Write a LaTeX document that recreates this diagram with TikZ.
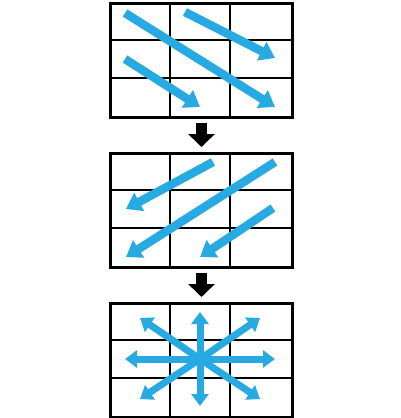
\documentclass[tikz,border=0pt]{standalone}
\usetikzlibrary{arrows.meta,calc}
\definecolor{arrowblue}{RGB}{39,170,225}
\begin{document}
\begin{tikzpicture}[x=1pt,y=-1pt,
  grid/.style={draw=black,line width=3pt,minimum width=182pt,minimum height=114pt,inner sep=0pt,anchor=north west},
  gridline/.style={draw=black,line width=1.8pt},
  bluearrow/.style={draw=arrowblue,line width=8.5pt,-{Triangle[width=20pt,length=15pt]}},
  smallblue/.style={draw=arrowblue,line width=7pt,-{Triangle[width=17pt,length=12pt]}},
  blackarrow/.style={draw=black,line width=11pt,-{Triangle[width=26pt,length=13pt]},shorten <=4pt,shorten >=5pt}]
\useasboundingbox (0,0) rectangle (400,418);
% grids
\foreach \n/\t in {g1/2,g2/152,g3/302}{
  \draw[gridline] (170,\t) -- ++(0,114);
  \draw[gridline] (230,\t) -- ++(0,114);
  \draw[gridline] (109,\t+38) -- ++(182,0);
  \draw[gridline] (109,\t+76) -- ++(182,0);
  \node[grid] (\n) at (109,\t) {};
}
% grid 1 arrows
\draw[bluearrow] (125,13) -- (275,107);
\draw[bluearrow] (185,12) -- (275,58);
\draw[bluearrow] (125,59) -- (200,107);
% grid 2 arrows
\draw[bluearrow] (213,162) -- (126,209);
\draw[bluearrow] (275,162) -- (126,257);
\draw[bluearrow] (273,208) -- (200,257);
% grid 3 arrows
\coordinate (c) at (200,359);
\foreach \p in {(200,312),(200,406),(125,359),(275,359),(140,318),(260,318),(140,399),(260,399)}{
  \draw[smallblue] (c) -- \p;
}
% connectors
\draw[blackarrow] (g1.south) -- (g2.north);
\draw[blackarrow] (g2.south) -- (g3.north);
\end{tikzpicture}
\end{document}
